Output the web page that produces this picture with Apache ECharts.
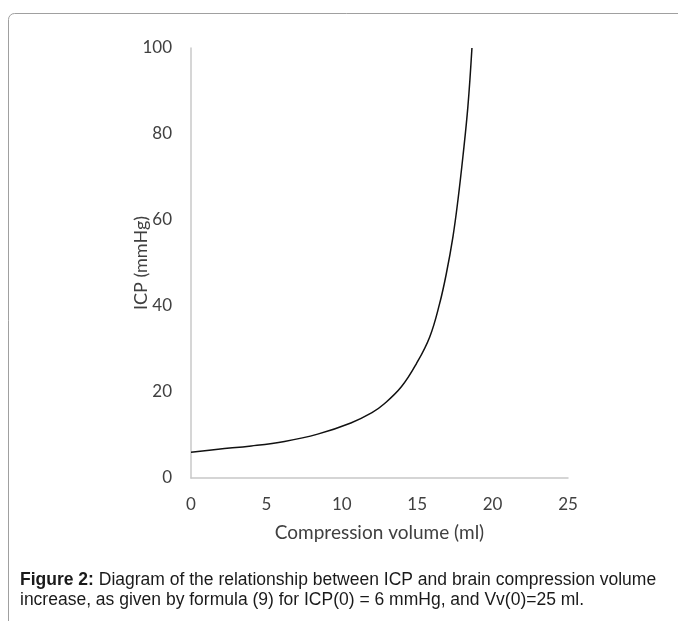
<!DOCTYPE html>
<html>
<head>
<meta charset="utf-8">
<script src="https://cdn.jsdelivr.net/npm/echarts@6/dist/echarts.min.js"></script>
<style>
html,body{margin:0;padding:0;background:#fff;}
#chart{width:678px;height:621px;}
</style>
</head>
<body>
<div id="chart"></div>
<script>
// Compression volume (ml)
var volume = [0, 1.8, 4.0, 6.2, 8.4, 10.6, 12.0, 12.8, 13.95, 14.95, 15.83, 16.49, 16.93, 17.37, 17.7, 18.03, 18.36, 18.63];
// ICP (mmHg)
var icp = [6.0, 6.7, 7.45, 8.5, 10.2, 12.8, 15.2, 17.2, 21.2, 26.6, 32.8, 40.6, 47.5, 56.1, 64.6, 74.7, 86.3, 100];
var xTicks = [0, 5, 10, 15, 20, 25];
var yTicks = [0, 20, 40, 60, 80, 100];

var pts = volume.map(function (v, i) { return [v, icp[i]]; });

var chart = echarts.init(document.getElementById('chart'));
var labelFont = 'Lato, "Open Sans", sans-serif';
chart.setOption({
  animation: false,
  backgroundColor: '#fff',
  grid: { left: 191, right: 110, top: 48, bottom: 143 },
  xAxis: {
    type: 'value', min: xTicks[0], max: xTicks[xTicks.length - 1], interval: 5,
    name: 'Compression volume (ml)', nameLocation: 'middle', nameGap: 45,
    nameMoveOverlap: false,
    nameTextStyle: { fontFamily: labelFont, fontSize: 19, color: '#404040' },
    axisLine: { show: true, lineStyle: { color: '#c8c8c8', width: 1.5 } },
    axisTick: { show: false },
    splitLine: { show: false },
    axisLabel: { fontFamily: labelFont, fontSize: 17, color: '#404040', margin: 18 }
  },
  yAxis: {
    type: 'value', min: yTicks[0], max: yTicks[yTicks.length - 1], interval: 20,
    name: 'ICP (mmHg)', nameLocation: 'middle', nameGap: 41, nameRotate: 90,
    nameMoveOverlap: false,
    nameTextStyle: { fontFamily: labelFont, fontSize: 18, color: '#404040' },
    axisLine: { show: true, lineStyle: { color: '#c8c8c8', width: 1.5 } },
    axisTick: { show: false },
    splitLine: { show: false },
    axisLabel: { fontFamily: labelFont, fontSize: 17, color: '#404040', margin: 19 }
  },
  series: [{
    type: 'line', data: pts, smooth: 0.4, showSymbol: false,
    lineStyle: { color: '#111', width: 1.5 }
  }],
  graphic: [
    {
      type: 'rect', z: -1,
      shape: { x: 8.5, y: 13.5, width: 700, height: 640, r: 6 },
      style: { fill: 'none', stroke: '#a0a0a0', lineWidth: 1 }
    },
    {
      type: 'text', left: 20, top: 570,
      style: {
        text: '{b|Figure 2:} Diagram of the relationship between ICP and brain compression volume\nincrease, as given by formula (9) for ICP(0) = 6 mmHg, and Vv(0)=25 ml.',
        rich: {
          b: { fontWeight: 'bold', fontFamily: '"Liberation Sans", Arial, sans-serif', fontSize: 17.5, fill: '#1a1a1a', lineHeight: 20 }
        },
        fontFamily: '"Liberation Sans", Arial, sans-serif', fontSize: 17.5, fill: '#1a1a1a', lineHeight: 20
      }
    }
  ]
});
</script>
</body>
</html>
